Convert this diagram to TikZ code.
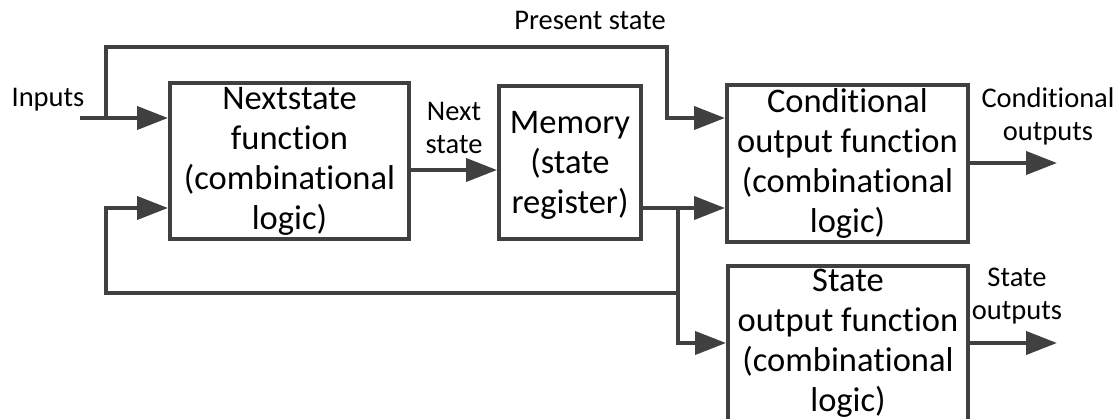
\documentclass[tikz,border=0pt]{standalone}
\usepackage{fontspec}
\setmainfont{Carlito}[Ligatures=NoCommon]
\usetikzlibrary{arrows.meta}
\definecolor{ln}{HTML}{404040}
\begin{document}
\begin{tikzpicture}[x=1pt,y=-1pt,
  box/.style={draw=ln, line width=4pt, inner sep=0pt, anchor=center},
  boxtext/.style={align=center, inner sep=0pt, font=\fontsize{34.5}{40}\selectfont},
  lbl/.style={align=center, inner sep=0pt, font=\fontsize{28.5}{33}\selectfont},
  wire/.style={draw=ln, line width=4pt},
  arr/.style={wire, -{Triangle[length=31pt,width=23pt]}}]
\useasboundingbox (0,0) rectangle (1118,419);
\clip (0,0) rectangle (1118,419);
% boxes
\node[box, minimum width=239pt, minimum height=156pt] (ns) at (289.5,161) {};
\node[box, minimum width=142pt, minimum height=153pt] (mem) at (570,162.5) {};
\node[box, minimum width=241pt, minimum height=157pt] (cof) at (847.5,163.5) {};
\node[box, minimum width=240pt, minimum height=157pt] (sof) at (848,344.5) {};
% box texts
\node[boxtext] (nst) at (289.5,161) {Nextstate\\function\\(combinational\\logic)};
\node[boxtext] (memt) at (570,165) {Memory\\(state\\register)};
\node[boxtext] (coft) at (847.5,163.5) {Conditional\\output function\\(combinational\\logic)};
\node[boxtext] (soft) at (848,343) {State\\output function\\(combinational\\logic)};
% labels
\node[lbl] (linp) at (48,100) {Inputs};
\node[lbl] (lps) at (590,20) {Present state};
\node[lbl] (lns) at (454,128) {Next\\state};
\node[lbl] (lco) at (1048,116) {Conditional\\outputs};
\node[lbl] (lso) at (1017,296) {State\\outputs};
% coordinates
\coordinate (in) at (80,118);
\coordinate (j1) at (106,118);
\coordinate (ps) at (667,47);
\coordinate (nx) at (450,170);
\coordinate (mo) at (678,208);
\coordinate (fb) at (678,293);
\coordinate (fbl) at (106,293);
\coordinate (co) at (1057,163);
\coordinate (so) at (1057,343);
% connectors
\draw[arr] (in) -- (in -| ns.west);
\draw[arr] (j1) |- (ps) |- (cof.west |- in);
\draw[arr] (ns.east |- nx) -- (mem.west |- nx);
\draw[arr] (mem.east |- mo) -- (cof.west |- mo);
\draw[arr] (mo) |- (sof.west |- so);
\draw[arr] (fb) -- (fbl) |- (ns.west |- mo);
\draw[arr] (cof.east |- co) -- (co);
\draw[arr] (sof.east |- so) -- (so);
\end{tikzpicture}
\end{document}
